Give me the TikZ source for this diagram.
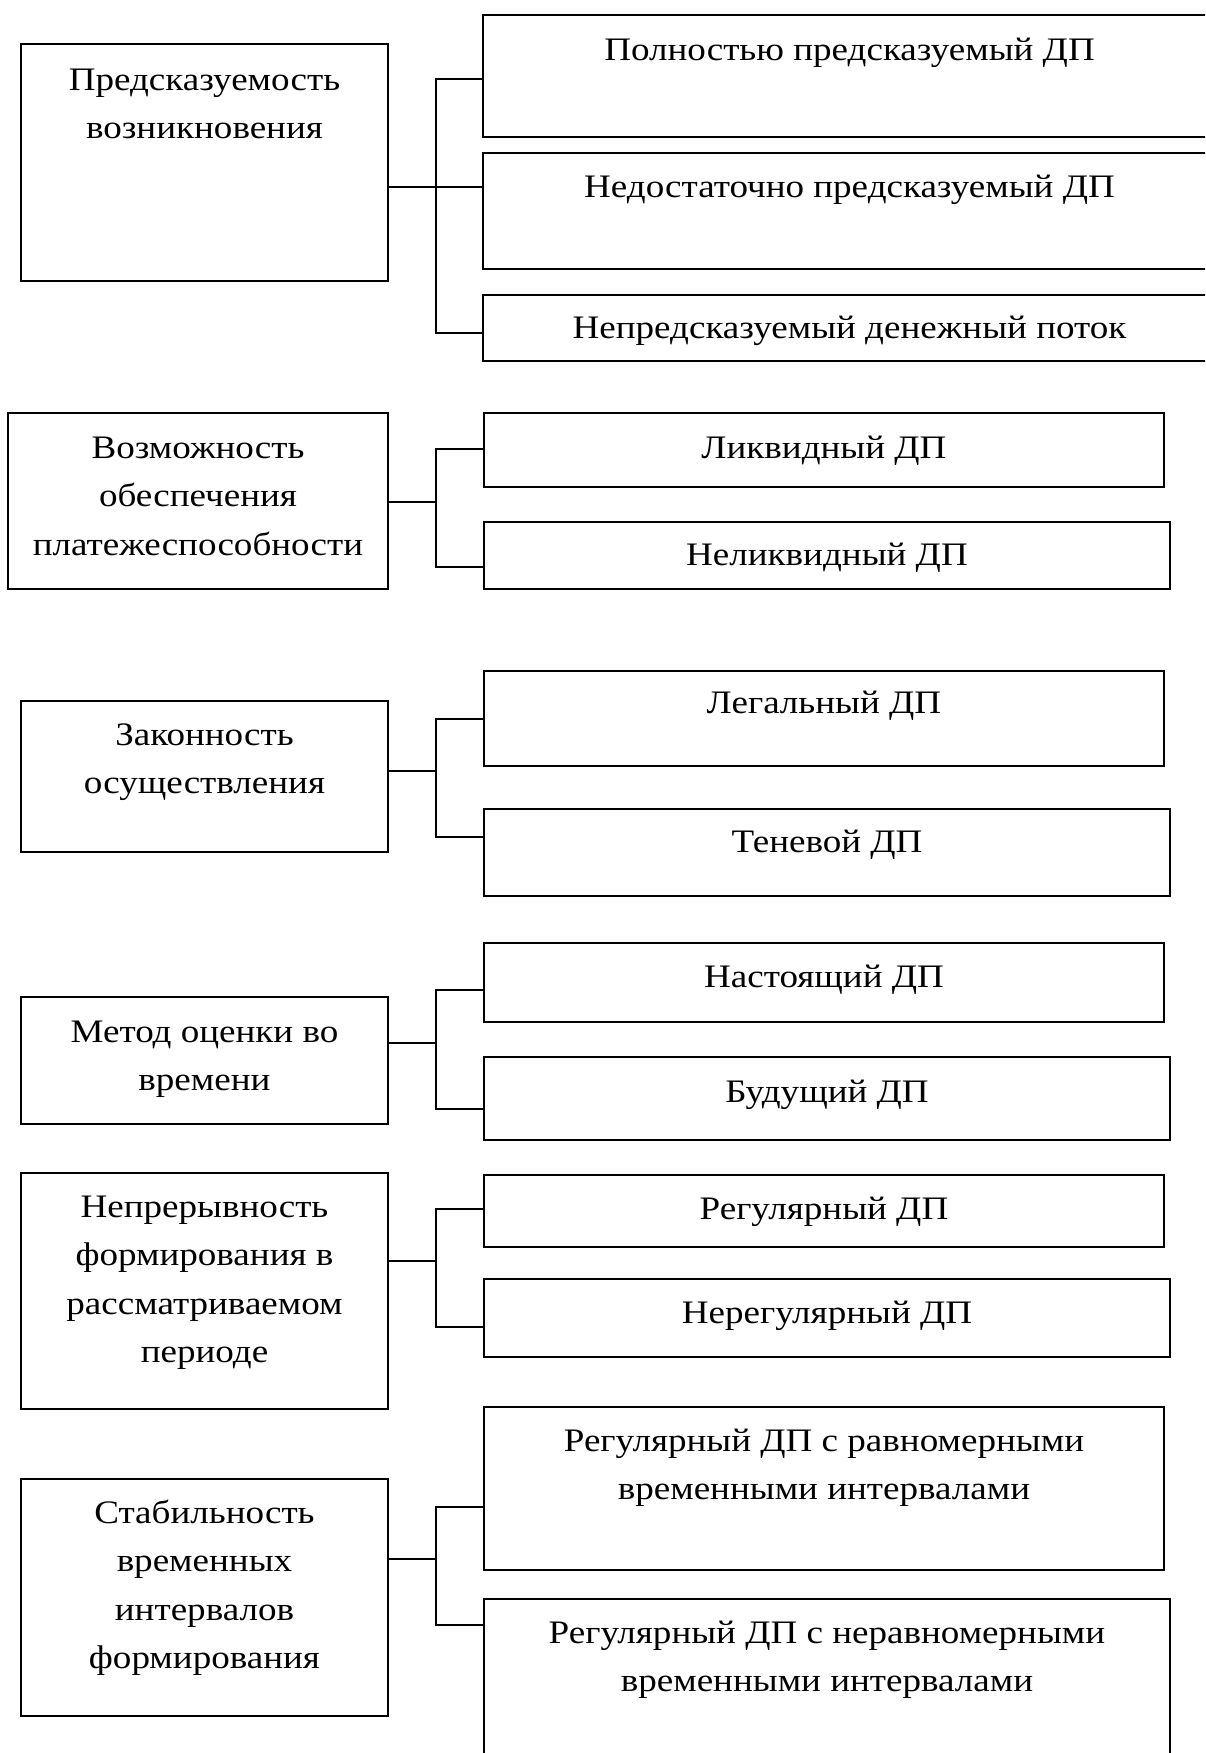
\documentclass[tikz,border=0pt]{standalone}
\usepackage{fontspec}
\setmainfont[FakeStretch=1.13]{Liberation Serif}
\tikzset{
  box/.style={draw, line width=1.8pt, inner sep=0pt, outer sep=0pt, anchor=north west},
  txt/.style={inner sep=0pt, outer sep=0pt, anchor=base, font=\fontsize{32.8}{48.5}\selectfont},
  conn/.style={line width=1.6pt}
}
\newcommand{\ml}[1]{\begin{tabular}[t]{@{}c@{}}#1\end{tabular}}
\renewcommand{\arraystretch}{1}
\begin{document}
\begin{tikzpicture}[x=1pt,y=-1pt]
\useasboundingbox (0,0) rectangle (1205,1753);
\clip (0,0) rectangle (1205,1753);
% parents
\node[box, minimum width=367pt, minimum height=237pt] (A) at (21,44) {};
\node[box, minimum width=380pt, minimum height=176pt] (B) at (8,413) {};
\node[box, minimum width=367pt, minimum height=151pt] (C) at (21,701) {};
\node[box, minimum width=367pt, minimum height=127pt] (D) at (21,997) {};
\node[box, minimum width=367pt, minimum height=236pt] (E) at (21,1173) {};
\node[box, minimum width=367pt, minimum height=237pt] (F) at (21,1479) {};
% children
\node[box, minimum width=733pt, minimum height=122pt] (A1) at (483,15) {};
\node[box, minimum width=733pt, minimum height=116pt] (A2) at (483,153) {};
\node[box, minimum width=733pt, minimum height=66pt] (A3) at (483,295) {};
\node[box, minimum width=680pt, minimum height=74pt] (B1) at (484,413) {};
\node[box, minimum width=686pt, minimum height=67pt] (B2) at (484,522) {};
\node[box, minimum width=680pt, minimum height=95pt] (C1) at (484,671) {};
\node[box, minimum width=686pt, minimum height=87pt] (C2) at (484,809) {};
\node[box, minimum width=680pt, minimum height=79pt] (D1) at (484,943) {};
\node[box, minimum width=686pt, minimum height=83pt] (D2) at (484,1057) {};
\node[box, minimum width=680pt, minimum height=72pt] (E1) at (484,1175) {};
\node[box, minimum width=686pt, minimum height=78pt] (E2) at (484,1279) {};
\node[box, minimum width=680pt, minimum height=163pt] (F1) at (484,1407) {};
\node[box, minimum width=686pt, minimum height=200pt] (F2) at (484,1599) {};
% texts
\node[txt] (At) at ([yshift=-46pt]A.north) {\ml{Предсказуемость\\возникновения}};
\node[txt] (Bt) at ([yshift=-45pt]B.north) {\ml{Возможность\\обеспечения\\платежеспособности}};
\node[txt] (Ct) at ([yshift=-44pt]C.north) {\ml{Законность\\осуществления}};
\node[txt] (Dt) at ([yshift=-45pt]D.north) {\ml{Метод оценки во\\времени}};
\node[txt] (Et) at ([yshift=-44pt]E.north) {\ml{Непрерывность\\формирования в\\рассматриваемом\\периоде}};
\node[txt] (Ft) at ([yshift=-44pt]F.north) {\ml{Стабильность\\временных\\интервалов\\формирования}};
\node[txt] (A1t) at ([yshift=-45pt]A1.north) {Полностью предсказуемый ДП};
\node[txt] (A2t) at ([yshift=-44pt]A2.north) {Недостаточно предсказуемый ДП};
\node[txt] (A3t) at ([yshift=-43pt]A3.north) {Непредсказуемый денежный поток};
\node[txt] (B1t) at ([yshift=-45pt]B1.north) {Ликвидный ДП};
\node[txt] (B2t) at ([yshift=-43pt]B2.north) {Неликвидный ДП};
\node[txt] (C1t) at ([yshift=-42pt]C1.north) {Легальный ДП};
\node[txt] (C2t) at ([yshift=-43pt]C2.north) {Теневой ДП};
\node[txt] (D1t) at ([yshift=-44pt]D1.north) {Настоящий ДП};
\node[txt] (D2t) at ([yshift=-45pt]D2.north) {Будущий ДП};
\node[txt] (E1t) at ([yshift=-44pt]E1.north) {Регулярный ДП};
\node[txt] (E2t) at ([yshift=-44pt]E2.north) {Нерегулярный ДП};
\node[txt] (F1t) at ([yshift=-44pt]F1.north) {\ml{Регулярный ДП с равномерными\\временными интервалами}};
\node[txt] (F2t) at ([yshift=-44pt]F2.north) {\ml{Регулярный ДП с неравномерными\\временными интервалами}};
% bracket coordinates
\coordinate (mA) at (436,187); \coordinate (tA) at (436,79);  \coordinate (bA) at (436,333);
\coordinate (mB) at (436,502); \coordinate (tB) at (436,449); \coordinate (bB) at (436,567);
\coordinate (mC) at (436,771); \coordinate (tC) at (436,719); \coordinate (bC) at (436,837);
\coordinate (mD) at (436,1043); \coordinate (tD) at (436,990); \coordinate (bD) at (436,1109);
\coordinate (mE) at (436,1261); \coordinate (tE) at (436,1209); \coordinate (bE) at (436,1327);
\coordinate (mF) at (436,1559); \coordinate (tF) at (436,1507); \coordinate (bF) at (436,1625);
% connectors
\draw[conn] (A.east|-mA) -- (A2.west|-mA);
\draw[conn] (A1.west|-tA) -- (tA) -- (bA) -- (A3.west|-bA);
\draw[conn] (B.east|-mB) -- (mB);
\draw[conn] (B1.west|-tB) -- (tB) -- (bB) -- (B2.west|-bB);
\draw[conn] (C.east|-mC) -- (mC);
\draw[conn] (C1.west|-tC) -- (tC) -- (bC) -- (C2.west|-bC);
\draw[conn] (D.east|-mD) -- (mD);
\draw[conn] (D1.west|-tD) -- (tD) -- (bD) -- (D2.west|-bD);
\draw[conn] (E.east|-mE) -- (mE);
\draw[conn] (E1.west|-tE) -- (tE) -- (bE) -- (E2.west|-bE);
\draw[conn] (F.east|-mF) -- (mF);
\draw[conn] (F1.west|-tF) -- (tF) -- (bF) -- (F2.west|-bF);
\end{tikzpicture}
\end{document}
